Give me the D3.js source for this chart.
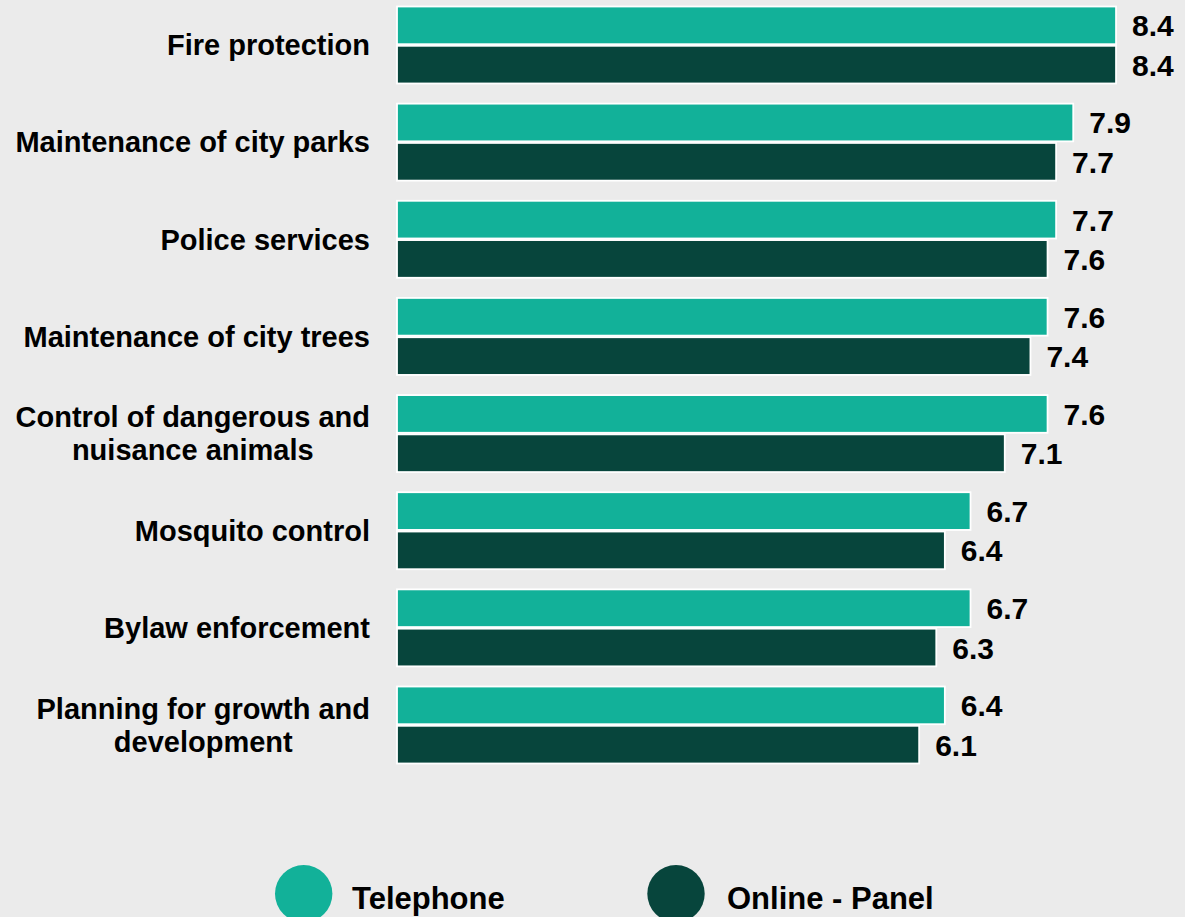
<!DOCTYPE html>
<html>
<head>
<meta charset="utf-8">
<script src="https://cdn.jsdelivr.net/npm/d3@7"></script>
<style>
  html, body { margin: 0; padding: 0; background: #ebebeb; }
  svg { display: block; }
  text { font-family: "Liberation Sans", Arial, Helvetica, sans-serif; font-weight: bold; fill: #000; }
</style>
</head>
<body>
<svg id="chart" width="1185" height="917"></svg>
<script>
// Service ratings (mean score out of 10)
const categories = [
  ["Fire protection"],
  ["Maintenance of city parks"],
  ["Police services"],
  ["Maintenance of city trees"],
  ["Control of dangerous and", "nuisance animals"],
  ["Mosquito control"],
  ["Bylaw enforcement"],
  ["Planning for growth and", "development"]
];
const seriesNames = ["Telephone", "Online - Panel"];
const telephone = [8.4, 7.9, 7.7, 7.6, 7.6, 6.7, 6.7, 6.4];
const onlinePanel = [8.4, 7.7, 7.6, 7.4, 7.1, 6.4, 6.3, 6.1];
const colors = ["#12b199", "#07453c"];

const series = [telephone, onlinePanel];
const svg = d3.select("#chart");

const x = d3.scaleLinear().domain([0, 10]).range([397, 1253]);
const y = d3.scaleBand()
  .domain(d3.range(categories.length))
  .range([5.7, 764.3])
  .paddingInner(0.191)
  .paddingOuter(0);
const ySub = d3.scaleBand()
  .domain(d3.range(series.length))
  .range([0, y.bandwidth()]);

// Bars
const groups = svg.append("g").selectAll("g")
  .data(categories)
  .join("g")
  .attr("transform", (d, i) => `translate(0,${y(i)})`);

groups.each(function(cat, i) {
  const g = d3.select(this);
  series.forEach((vals, s) => {
    const v = vals[i];
    g.append("rect")
      .attr("x", x(0))
      .attr("y", ySub(s) + 0.8)
      .attr("width", x(v) - x(0))
      .attr("height", ySub.bandwidth() - 1.6)
      .attr("fill", colors[s])
      .attr("stroke", "#ffffff")
      .attr("stroke-width", 1.8);
    g.append("text")
      .attr("x", x(v) + 16)
      .attr("y", ySub(s) + ySub.bandwidth() / 2 + 11)
      .attr("font-size", 30)
      .text(d3.format(".1f")(v));
  });
});

// Category labels: block right-aligned, lines centered within the block
const labelRight = 370;
const lineHeight = 33;
groups.each(function(cat, i) {
  const g = d3.select(this);
  const cy = y.bandwidth() / 2;
  const t = g.append("text").attr("font-size", 29).attr("text-anchor", "middle");
  const n = cat.length;
  const spans = cat.map((line, k) =>
    t.append("tspan")
      .attr("y", cy + 10.3 + (k - (n - 1) / 2) * lineHeight)
      .text(line));
  const maxW = d3.max(spans, sp => sp.node().getComputedTextLength());
  spans.forEach(sp => sp.attr("x", labelRight - maxW / 2));
});

// Legend
const legendItems = [
  { cx: 303.7, tx: 352 },
  { cx: 676, tx: 727 }
];
const legend = svg.append("g");
seriesNames.forEach((name, s) => {
  legend.append("circle")
    .attr("cx", legendItems[s].cx)
    .attr("cy", 893.7)
    .attr("r", 28.7)
    .attr("fill", colors[s]);
  legend.append("text")
    .attr("x", legendItems[s].tx)
    .attr("y", 909)
    .attr("font-size", 31)
    .text(name);
});
</script>
</body>
</html>
